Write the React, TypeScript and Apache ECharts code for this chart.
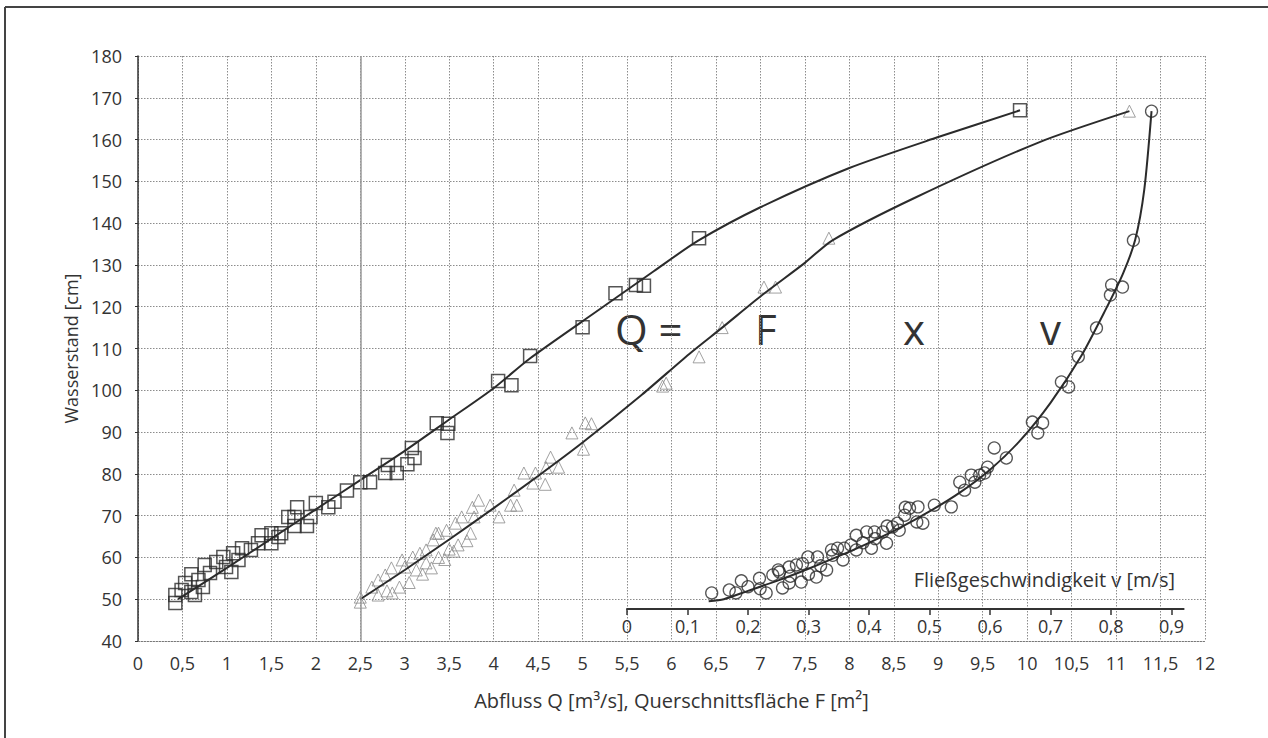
import { useEffect, useRef } from "react";
import * as echarts from "echarts";

// Abfluss Q [m³/s] vs Wasserstand [cm] (squares)
const Q_POINTS: [number, number][] = [
  [0.42, 49.1], [0.42, 51], [0.49, 52.2], [0.53, 53.9], [0.6, 51.7], [0.64, 51], [0.6, 56], [0.68, 54.6],
  [0.73, 52.9], [0.75, 58.2], [0.81, 56.3], [0.88, 58.9], [0.96, 60.1], [0.99, 57.7], [1.05, 56.5], [1.07, 61],
  [1.13, 59.4], [1.17, 62.2], [1.27, 61.8], [1.35, 63.4], [1.39, 65.3], [1.5, 63.4], [1.5, 65.8], [1.58, 64.9],
  [1.61, 65.8], [1.69, 69.7], [1.76, 69.7], [1.76, 67.5], [1.79, 72], [1.9, 67.5], [1.94, 69.7], [2.0, 73],
  [2.14, 72], [2.21, 73.3], [2.35, 76], [2.5, 78], [2.61, 78], [2.78, 80.2], [2.81, 82.1], [2.91, 80.2],
  [3.03, 82.3], [3.08, 86.2], [3.11, 83.8], [3.36, 92.1], [3.49, 92], [3.48, 89.8], [4.05, 102.2], [4.2, 101.2],
  [4.41, 108.2], [5.0, 115.1], [5.37, 123.2], [5.6, 125.2], [5.69, 125], [6.31, 136.4], [9.92, 167],
];

// Querschnittsfläche F [m²] vs Wasserstand (triangles)
const F_POINTS: [number, number][] = [
  [2.5, 49.3], [2.5, 50.5], [2.63, 52.9], [2.7, 54.6], [2.78, 55.8], [2.85, 57.5], [2.97, 59.4], [3.0, 57.7],
  [3.09, 60.1], [3.17, 61], [3.24, 61.8], [3.32, 64.2], [3.35, 65.8], [2.7, 51], [2.8, 52], [2.86, 51.5],
  [2.94, 52.9], [3.05, 54], [3.13, 57], [3.2, 56], [3.24, 58.7], [3.3, 57.5], [3.38, 60], [3.45, 59.5],
  [3.5, 62], [3.55, 61.5], [3.6, 63], [3.7, 64], [3.47, 66.5], [3.38, 65.8], [3.57, 68.2], [3.64, 69.7],
  [3.74, 65.8], [3.78, 69.7], [3.76, 72], [3.83, 73.7], [3.96, 72.5], [4.06, 69.7], [4.19, 72.5], [4.26, 72.5],
  [4.23, 76.1], [4.34, 80.2], [4.44, 77.8], [4.47, 80.2], [4.58, 77.5], [4.59, 81.5], [4.64, 84], [4.73, 81.6],
  [4.88, 89.8], [5.03, 92.2], [5.1, 92], [5.01, 85.9], [5.9, 101], [5.94, 101.7], [6.31, 108], [6.57, 115],
  [7.04, 124.7], [7.17, 124.7], [7.77, 136.4], [11.15, 166.8],
];

// Fließgeschwindigkeit v [m/s] vs Wasserstand (circles)
const V_POINTS: [number, number][] = [
  [0.14, 51.5], [0.169, 52.2], [0.18, 51.5], [0.189, 54.4], [0.2, 53], [0.219, 55], [0.22, 52.5], [0.23, 51.5],
  [0.241, 55.8], [0.25, 57], [0.252, 56.5], [0.257, 52.7], [0.268, 57.7], [0.268, 53.9], [0.27, 55.5],
  [0.28, 58.2], [0.288, 54.1], [0.29, 58.5], [0.299, 60.1], [0.3, 56], [0.315, 60.1], [0.313, 55.3],
  [0.32, 58], [0.33, 57], [0.338, 61.8], [0.34, 60.5], [0.348, 62.2], [0.357, 59.4], [0.359, 62.2],
  [0.37, 63], [0.379, 65.3], [0.379, 61.8], [0.39, 63.5], [0.396, 66.1], [0.404, 62.2], [0.409, 66.1],
  [0.41, 64.5], [0.423, 66.1], [0.429, 63.4], [0.43, 67.5], [0.439, 67.3], [0.447, 68.2], [0.45, 66.5],
  [0.459, 70.1], [0.46, 72], [0.467, 71.8], [0.481, 72.1], [0.489, 68.2], [0.479, 68.5], [0.508, 72.5],
  [0.536, 72.1], [0.55, 78], [0.558, 76.1], [0.569, 79.7], [0.583, 79.7], [0.575, 78], [0.596, 81.6],
  [0.591, 80.2], [0.607, 86.2], [0.627, 83.8], [0.67, 92.4], [0.687, 92.2], [0.679, 89.8], [0.718, 102],
  [0.73, 100.8], [0.746, 108], [0.776, 114.9], [0.799, 122.8], [0.801, 125.2], [0.819, 124.7],
  [0.837, 135.9], [0.867, 166.8],
];

// fitted curves
const Q_FIT: [number, number][] = [
  [0.45, 50], [1.0, 57.5], [1.5, 64.5], [2.0, 71.5], [2.5, 78.5], [3.0, 85.5], [3.5, 93], [4.0, 100.5],
  [4.4, 107.5], [5.2, 119.5], [5.8, 128.5], [6.3, 135.8], [7.0, 143.8], [8.0, 153.2], [9.0, 160.6], [9.92, 167],
];
const F_FIT: [number, number][] = [
  [2.5, 50], [3.0, 57], [3.5, 64.3], [4.0, 71.8], [4.5, 79.5], [5.0, 87.5], [5.67, 99], [6.2, 108.7],
  [6.57, 115], [7.02, 122.8], [7.5, 130.5], [7.81, 135.9], [8.75, 146.2], [10.14, 159.4], [11.15, 166.8],
];
const V_FIT: [number, number][] = [
  [0.135, 49.5], [0.16, 50], [0.2, 52], [0.25, 54.5], [0.3, 57.3], [0.35, 60.3], [0.4, 63.5], [0.45, 67],
  [0.5, 71], [0.55, 75.5], [0.6, 81], [0.65, 88], [0.7, 97], [0.75, 108], [0.79, 119], [0.82, 128],
  [0.84, 136], [0.855, 148], [0.867, 166.8],
];

const VEL_TICKS = [0, 0.1, 0.2, 0.3, 0.4, 0.5, 0.6, 0.7, 0.8, 0.9];
const FORMULA = ["Q =", "F", "x", "v"];
const X_TITLE = "Abfluss Q [m³/s], Querschnittsfläche F [m²]";
const Y_TITLE = "Wasserstand [cm]";
const V_TITLE = "Fließgeschwindigkeit v [m/s]";

const comma = (v: number) => String(+v.toFixed(2)).replace(".", ",");

export default function App() {
  const ref = useRef<HTMLDivElement>(null);
  useEffect(() => {
    const chart = echarts.init(ref.current!, null, { renderer: "svg" });
    const font = "'Open Sans', 'Noto Sans', sans-serif";
    const ink = "#333";
    const mark = "#2b2b2b";
    const gridLine = { show: true, lineStyle: { color: "#8c8c8c", type: [1.5, 1.5], width: 1 } };
    const formulaX = [615, 755, 903, 1040];
    chart.setOption({
      animation: false,
      backgroundColor: "#fff",
      textStyle: { fontFamily: font, color: ink },
      grid: [
        { left: 138, top: 56, width: 1067, height: 585 },
        { left: 627, top: 56, width: 556.6, height: 585 },
      ],
      xAxis: [
        {
          type: "value", gridIndex: 0, min: 0, max: 12, interval: 0.5,
          axisLine: { show: true, lineStyle: { color: "#777", type: [1.5, 1.5] } },
          axisTick: { show: false },
          axisLabel: { formatter: comma, fontSize: 18, color: ink, margin: 13, fontFamily: font },
          splitLine: gridLine,
          name: X_TITLE, nameLocation: "middle", nameGap: 49,
          nameTextStyle: { fontSize: 20, color: ink, fontFamily: font },
        },
        {
          type: "value", gridIndex: 1, min: 0, max: 0.92, position: "bottom", offset: -32,
          axisLine: { show: true, lineStyle: { color: "#333", width: 2 } },
          axisTick: { show: true, customValues: VEL_TICKS, length: 6, lineStyle: { color: "#333", width: 1.5 } },
          axisLabel: { customValues: VEL_TICKS, formatter: comma, fontSize: 18, color: ink, margin: 8, fontFamily: font },
          splitLine: { show: false },
        },
      ],
      yAxis: [
        {
          type: "value", gridIndex: 0, min: 40, max: 180, interval: 10,
          axisLine: { show: true, lineStyle: { color: "#333", width: 1.5 } },
          axisTick: { show: true, length: 3, lineStyle: { color: "#333" } },
          axisLabel: { fontSize: 18, color: ink, margin: 16, fontFamily: font },
          splitLine: gridLine,
          name: Y_TITLE, nameLocation: "middle", nameGap: 56,
          nameTextStyle: { fontSize: 18, color: ink, fontFamily: font },
        },
        { type: "value", gridIndex: 1, min: 40, max: 180, show: false },
      ],
      series: [
        {
          type: "scatter", xAxisIndex: 0, yAxisIndex: 0, data: Q_POINTS,
          symbol: "rect", symbolSize: 13,
          itemStyle: { color: "rgba(0,0,0,0)", borderColor: mark, borderWidth: 1.5 },
          markLine: {
            silent: true, symbol: "none", label: { show: false },
            lineStyle: { color: "#9a9a9a", type: "solid", width: 1.5 },
            data: [{ xAxis: 2.5 }],
          },
        },
        {
          type: "line", xAxisIndex: 0, yAxisIndex: 0, data: Q_FIT, showSymbol: false, smooth: 0.25,
          lineStyle: { color: mark, width: 2 },
        },
        {
          type: "scatter", xAxisIndex: 0, yAxisIndex: 0, data: F_POINTS,
          symbol: "triangle", symbolSize: 12,
          itemStyle: { color: "rgba(0,0,0,0)", borderColor: "#8a8a8a", borderWidth: 1 },
        },
        {
          type: "line", xAxisIndex: 0, yAxisIndex: 0, data: F_FIT, showSymbol: false, smooth: 0.25,
          lineStyle: { color: mark, width: 2 },
        },
        {
          type: "scatter", xAxisIndex: 1, yAxisIndex: 1, data: V_POINTS,
          symbol: "circle", symbolSize: 12,
          itemStyle: { color: "rgba(0,0,0,0)", borderColor: mark, borderWidth: 1.3 },
        },
        {
          type: "line", xAxisIndex: 1, yAxisIndex: 1, data: V_FIT, showSymbol: false, smooth: 0.25,
          lineStyle: { color: mark, width: 2 },
        },
      ],
      graphic: [
        { type: "line", shape: { x1: 5, y1: 7, x2: 5, y2: 738 }, style: { stroke: "#444", lineWidth: 2 } },
        { type: "line", shape: { x1: 5, y1: 7, x2: 1268, y2: 7 }, style: { stroke: "#444", lineWidth: 2 } },
        ...FORMULA.map((t, i) => ({
          type: "text", x: formulaX[i], y: 328,
          style: { text: t, fontSize: 42, fontFamily: font, fill: "#333", align: "left", verticalAlign: "middle" },
        })),
        {
          type: "text", x: 1175, y: 579,
          style: { text: V_TITLE, fontSize: 20, fontFamily: font, fill: ink, align: "right", verticalAlign: "middle" },
        },
      ],
    });
    return () => chart.dispose();
  }, []);
  return (
    <div
      ref={ref}
      style={{ position: "fixed", left: 0, top: 0, width: 1268, height: 738, background: "#fff" }}
    />
  );
}
